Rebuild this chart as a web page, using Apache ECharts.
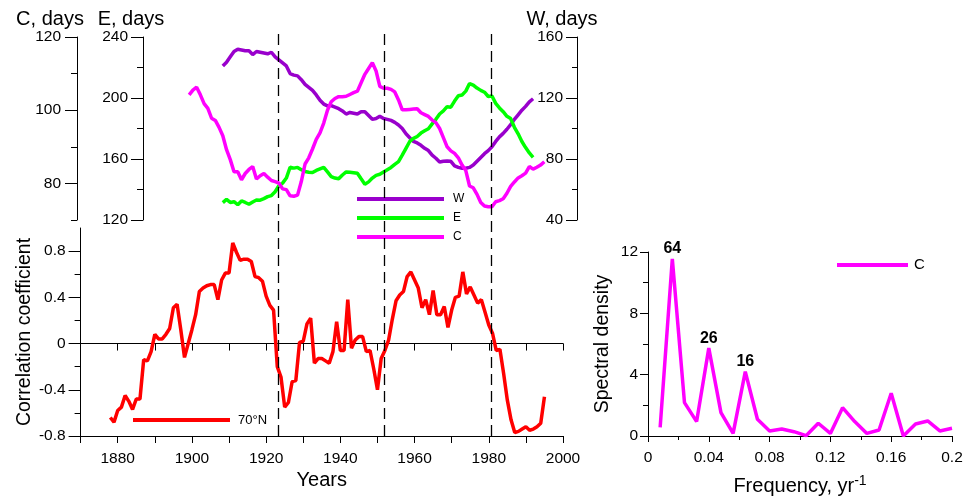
<!DOCTYPE html>
<html><head><meta charset="utf-8">
<script src="https://cdn.jsdelivr.net/npm/echarts@6/dist/echarts.min.js"></script>
<style>html,body{margin:0;padding:0;background:#fff}#c{width:967px;height:497px}</style>
</head><body><div id="c"></div>
<script>
// ---- data ----
const wStart = 1909;
const wValues = [141,143.5,147,150.5,152,151.5,151,151,148.5,150.5,
150,149.5,149,150,147,145,143,141,136,135,
134.5,132,129,127,125,122,118.5,116,114.8,115,
114,113,111.5,109.5,110.5,110,109.5,111,111,108.5,
106,106.5,108,106.5,106,105.3,104,102.3,100,96.5,
94,91.5,90.5,89,87,85.5,82.5,80.5,78,78.5,
78.7,78.5,75.5,74.5,73.9,73.9,74.5,76,78.5,81,
83.5,85.5,88,91.5,94.5,96.8,99.5,102.5,106,109,
112,114.5,117.5,119.5];
const eStart = 1909;
const eValues = [131.4,133.5,131.5,132,130,132.5,131.5,130.3,131.8,133.1,
133,134,135.3,136,138.5,142.5,144.2,147.5,154.6,154,
154.5,153,151.8,151.3,151.1,152.5,153.5,154.5,151.5,148.5,
147.5,147,149.5,151.5,151.3,151,150.6,147,143.5,145,
147.5,149.3,150,151.5,153,154.5,156.5,158.3,162.5,167,
171.5,173.5,174.8,177,178.5,179.8,183,186,189.5,191.5,
194.3,194,198,201.5,202,204.5,209.5,208.5,206.5,205,
203.8,201,201.3,196.5,193.5,191,188,186.5,180.8,176.5,
171.5,167.5,164,161.1];
const cStart = 1900;
const cValues = [104.2,105.5,106.3,104.2,101.8,100.5,97.8,97.2,95.3,93,
89.2,86.5,83.2,83.2,81,82.7,83.8,84.6,81.2,82.1,
82.7,81.7,80.8,80.5,80.1,78.5,78.3,76.6,76.5,76.8,
80.5,85.3,87,89.4,92,93.8,96.5,100,102.3,103.2,
103.7,103.7,103.8,104.3,104.8,105.2,107.5,109.8,111.4,113,
110.7,106.5,106,106,105.7,105,102.8,100.1,100.1,100.2,
100.3,100.4,99.3,98.8,98.3,97.3,96.6,95,92.5,90,
88.9,88.2,87,85,83.5,79.3,78.8,77,74.8,73.8,
73.6,73.6,75,75.3,75.8,77.3,79.2,80.4,81.5,82.1,
82.8,84.6,83.9,84.4,85,85.9];
const corrStart = 1878;
const corrValues = [-0.64,-0.68,-0.58,-0.55,-0.45,-0.50,-0.57,-0.48,-0.48,-0.14,
-0.15,-0.07,0.08,0.04,0.04,0.08,0.13,0.31,0.34,0.12,
-0.12,0.0,0.12,0.25,0.45,0.48,0.50,0.51,0.51,0.38,
0.55,0.61,0.61,0.87,0.79,0.72,0.73,0.73,0.71,0.58,
0.57,0.54,0.41,0.33,0.29,-0.20,-0.29,-0.55,-0.51,-0.33,
-0.32,0.01,0.02,0.17,0.22,-0.17,-0.13,-0.13,-0.15,-0.17,
-0.07,0.19,-0.06,-0.06,0.38,-0.04,0.03,0.06,0.06,-0.07,
-0.06,-0.22,-0.40,-0.13,-0.06,0.03,0.21,0.37,0.42,0.45,
0.58,0.62,0.55,0.48,0.31,0.38,0.25,0.46,0.25,0.25,
0.32,0.14,0.29,0.40,0.41,0.62,0.43,0.49,0.42,0.35,
0.38,0.27,0.16,0.09,-0.06,-0.05,-0.26,-0.49,-0.66,-0.77,
-0.76,-0.74,-0.72,-0.75,-0.74,-0.72,-0.69,-0.46];
const breakYears = [1923.8, 1952.3, 1980.7];
const specFreq = [0.008,0.016,0.024,0.032,0.040,0.048,0.056,0.064,0.072,0.080,
0.088,0.096,0.104,0.112,0.120,0.128,0.136,0.144,0.152,0.160,
0.168,0.176,0.184,0.192,0.200];
const specValues = [0.57,11.55,2.18,0.94,5.73,1.52,0.17,4.2,1.09,0.33,
0.46,0.28,0.02,0.83,0.17,1.85,0.94,0.17,0.39,2.79,
0.0,0.78,0.98,0.33,0.5];
const peakPeriods = [null,'64',null,null,'26',null,null,'16'];
const cTicksMajor = [80,100,120], cTicksMinor = [70,90,110];
const corrTicksMajor = [-0.8,-0.4,0,0.4,0.8], corrTicksMinor = [-0.6,-0.2,0.2,0.6];
const yearLabels = [1880,1900,1920,1940,1960,1980,2000];

// ---- chart ----
const FF = '"Liberation Sans", Arial, sans-serif';
const BLACK = '#000';
const line = {lineStyle:{color:BLACK,width:1}};
const lbl = (o) => Object.assign({color:BLACK,fontSize:15.5,fontFamily:FF}, o||{});
const pairs = (start, vals) => vals.map((v,i)=>[start+i, v]);

const chart = echarts.init(document.getElementById('c'), null, {renderer:'canvas'});
chart.setOption({
  animation:false,
  backgroundColor:'#fff',
  textStyle:{fontFamily:FF, color:BLACK},
  grid:[
    {left:77, top:37, width:486, height:183},
    {left:77, top:228, width:486, height:208},
    {left:77, top:32, width:486, height:404},
    {left:648, top:252, width:304, height:184}
  ],
  graphic:[
    {type:'text', x:50, y:19, style:{text:'C, days', font:'20px '+FF, fill:BLACK, align:'center', verticalAlign:'middle'}},
    {type:'text', x:131, y:19, style:{text:'E, days', font:'20px '+FF, fill:BLACK, align:'center', verticalAlign:'middle'}},
    {type:'text', x:562, y:19, style:{text:'W, days', font:'20px '+FF, fill:BLACK, align:'center', verticalAlign:'middle'}}
  ],
  legend:[
    {data:['W','E','C'], orient:'vertical', left:357, top:192, padding:0, icon:'rect', itemWidth:87, itemHeight:4, itemGap:5, selectedMode:false,
     textStyle:{fontSize:12, lineHeight:14, color:BLACK, fontFamily:FF, padding:[0,0,0,4]}},
    {data:['70°N'], left:133, top:413, padding:0, icon:'rect', itemWidth:97, itemHeight:4, selectedMode:false,
     textStyle:{fontSize:13, lineHeight:14, color:BLACK, fontFamily:FF, padding:[0,0,0,3]}},
    {data:['C'], left:837, top:257, padding:0, icon:'rect', itemWidth:71, itemHeight:4, selectedMode:false,
     textStyle:{fontSize:15, lineHeight:16, color:BLACK, fontFamily:FF, padding:[0,0,0,1]}}
  ],
  xAxis:[
    {gridIndex:0, type:'value', min:1870, max:2000, show:false},
    {gridIndex:1, type:'value', position:'bottom', min:1870, max:2000, interval:10,
     axisLine:{onZero:false, lineStyle:{color:BLACK,width:1}}, axisTick:{length:7, lineStyle:{color:BLACK}},
     axisLabel:lbl({customValues:yearLabels, margin:15, formatter:v=>String(v)}), splitLine:{show:false},
     name:'Years', nameLocation:'middle', nameGap:34, nameTextStyle:{fontSize:20, color:BLACK, fontFamily:FF}},
    {gridIndex:1, type:'value', position:'top', min:1870, max:2000, interval:10,
     axisLine:{onZero:true, lineStyle:{color:BLACK,width:1}}, axisTick:{inside:true, length:7, lineStyle:{color:BLACK}},
     axisLabel:{show:false}, splitLine:{show:false}},
    {gridIndex:2, type:'value', min:1870, max:2000, show:false},
    {gridIndex:3, type:'value', min:0, max:0.2, interval:0.04,
     axisLine:{onZero:false, lineStyle:{color:BLACK,width:1}}, axisTick:{length:6, lineStyle:{color:BLACK}},
     minorTick:{show:true, splitNumber:2, length:4, lineStyle:{color:BLACK}},
     axisLabel:lbl({margin:14}), splitLine:{show:false}, minorSplitLine:{show:false},
     name:'Frequency, yr{sup|-1}', nameLocation:'middle', nameGap:38,
     nameTextStyle:{fontSize:20, color:BLACK, fontFamily:FF, rich:{sup:{fontSize:14, color:BLACK, fontFamily:FF, padding:[0,0,10,0]}}}}
  ],
  yAxis:[
    {gridIndex:0, type:'value', position:'left', min:70, max:120, interval:10,
     axisLine:Object.assign({onZero:false}, line), axisTick:{length:12, customValues:cTicksMajor, lineStyle:{color:BLACK}},
     axisLabel:lbl({customValues:cTicksMajor, margin:16}), splitLine:{show:false}},
    {gridIndex:0, type:'value', position:'left', min:70, max:120, interval:10,
     axisLine:{show:false, onZero:false}, axisTick:{length:6, customValues:cTicksMinor, lineStyle:{color:BLACK}},
     axisLabel:{show:false}, splitLine:{show:false}},
    {gridIndex:0, type:'value', position:'left', offset:-66, min:120, max:240, interval:40,
     axisLine:Object.assign({onZero:false}, line), axisTick:{length:12, lineStyle:{color:BLACK}},
     minorTick:{show:true, splitNumber:2, length:6, lineStyle:{color:BLACK}},
     axisLabel:lbl({margin:15}), splitLine:{show:false}, minorSplitLine:{show:false}},
    {gridIndex:0, type:'value', position:'right', offset:14, min:40, max:160, interval:40,
     axisLine:Object.assign({onZero:false}, line), axisTick:{inside:true, length:11, lineStyle:{color:BLACK}},
     minorTick:{show:true, splitNumber:2, length:5, lineStyle:{color:BLACK}},
     axisLabel:lbl({inside:true, margin:14}), splitLine:{show:false}, minorSplitLine:{show:false}},
    {gridIndex:1, type:'value', position:'left', min:-0.8, max:1.0,
     axisLine:Object.assign({onZero:false}, line), axisTick:{length:12, customValues:corrTicksMajor, lineStyle:{color:BLACK}},
     axisLabel:lbl({customValues:corrTicksMajor, margin:15}), splitLine:{show:false},
     name:'Correlation coefficient', nameLocation:'middle', nameGap:46, nameRotate:90,
     nameTextStyle:{fontSize:19.5, color:BLACK, fontFamily:FF}},
    {gridIndex:1, type:'value', position:'left', min:-0.8, max:1.0,
     axisLine:{show:false, onZero:false}, axisTick:{length:6, customValues:corrTicksMinor, lineStyle:{color:BLACK}},
     axisLabel:{show:false}, splitLine:{show:false}},
    {gridIndex:2, type:'value', min:0, max:1, show:false},
    {gridIndex:3, type:'value', min:0, max:12, interval:4,
     axisLine:Object.assign({onZero:false}, line), axisTick:{length:8, lineStyle:{color:BLACK}},
     minorTick:{show:true, splitNumber:2, length:5, lineStyle:{color:BLACK}},
     axisLabel:lbl({margin:10}), splitLine:{show:false}, minorSplitLine:{show:false},
     name:'Spectral density', nameLocation:'middle', nameGap:35, nameRotate:90,
     nameTextStyle:{fontSize:19.5, color:BLACK, fontFamily:FF}}
  ],
  series:[
    {name:'W', type:'line', xAxisIndex:0, yAxisIndex:3, data:pairs(wStart,wValues), symbol:'none',
     color:'#9900cc', lineStyle:{width:3.5, color:'#9900cc'}},
    {name:'E', type:'line', xAxisIndex:0, yAxisIndex:2, data:pairs(eStart,eValues), symbol:'none',
     color:'#00ff00', lineStyle:{width:3.5, color:'#00ff00'}},
    {name:'C', type:'line', xAxisIndex:0, yAxisIndex:0, data:pairs(cStart,cValues), symbol:'none',
     color:'#ff00ff', lineStyle:{width:3.5, color:'#ff00ff'}},
    {name:'70°N', type:'line', xAxisIndex:1, yAxisIndex:4, data:pairs(corrStart,corrValues), symbol:'none',
     color:'#ff0000', lineStyle:{width:3.5, color:'#ff0000'}},
    {name:'breaks', type:'line', xAxisIndex:3, yAxisIndex:6, data:[], symbol:'none',
     markLine:{silent:true, symbol:['none','none'], label:{show:false},
       lineStyle:{type:[11,6], color:BLACK, width:1.3},
       data:breakYears.map(y=>({xAxis:y}))}},
    {name:'C', type:'line', xAxisIndex:4, yAxisIndex:7, symbol:'circle', symbolSize:0, showSymbol:true,
     color:'#ff00ff', lineStyle:{width:3.5, color:'#ff00ff'},
     label:{position:'top', distance:2, fontSize:16, fontWeight:'bold', color:BLACK, fontFamily:FF},
     data:specFreq.map((f,i)=>({value:[f, specValues[i]],
       label: peakPeriods[i] ? {show:true, formatter:peakPeriods[i]} : {show:false}}))}
  ]
});
</script>
</body></html>
